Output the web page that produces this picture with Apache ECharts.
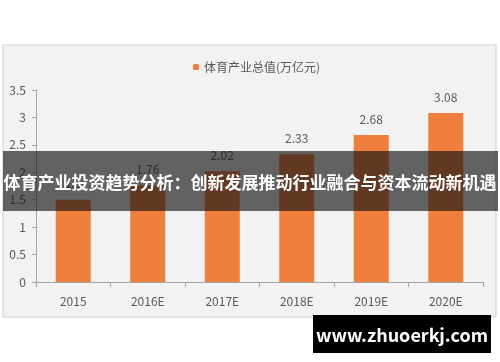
<!DOCTYPE html>
<html><head><meta charset="utf-8">
<script src="https://cdn.jsdelivr.net/npm/echarts@6/dist/echarts.min.js"></script>
<style>html,body{margin:0;padding:0;background:#fff}#c{width:500px;height:362px}</style>
</head><body><div id="c"></div>
<script>
const categories = ['2015','2016E','2017E','2018E','2019E','2020E'];
const values = [1.5, 1.76, 2.02, 2.33, 2.68, 3.08];
const seriesName = '体育产业总值(万亿元)';
const yTicks = {min: 0, max: 3.5, interval: 0.5};
const bannerText = '体育产业投资趋势分析：创新发展推动行业融合与资本流动新机遇';
const watermark = 'www.zhuoerkj.com';

const chart = echarts.init(document.getElementById('c'));
const font = '"Microsoft YaHei","Noto Sans CJK SC","Noto Sans",sans-serif';
chart.setOption({
  animation: false,
  backgroundColor: '#fff',
  textStyle: {fontFamily: font},
  legend: {
    data: [seriesName], left: 188, top: 56,
    itemWidth: 6, itemHeight: 6, itemGap: 4,
    textStyle: {fontSize: 12, color: '#595959', fontFamily: font}
  },
  grid: {left: 36, right: 17, top: 90, bottom: 80},
  xAxis: {
    type: 'category', data: categories,
    axisLine: {lineStyle: {color: '#a6a6a6'}},
    axisTick: {show: true, lineStyle: {color: '#a6a6a6'}, length: 5},
    axisLabel: {color: '#595959', fontSize: 12, margin: 13}
  },
  yAxis: {
    type: 'value', min: yTicks.min, max: yTicks.max, interval: yTicks.interval,
    axisLine: {show: true, lineStyle: {color: '#a6a6a6'}},
    axisTick: {show: true, lineStyle: {color: '#a6a6a6'}, length: 4},
    splitLine: {show: false},
    axisLabel: {color: '#595959', fontSize: 12, margin: 10}
  },
  series: [{
    name: seriesName, type: 'bar', data: values, barWidth: '47%',
    itemStyle: {color: '#EF7F3C'},
    label: {show: true, position: 'top', color: '#595959', fontSize: 12, distance: 10}
  }],
  graphic: [
    {type: 'rect', z: -10, shape: {x: 3, y: 45, width: 493, height: 272},
     style: {fill: '#f2f2f2', stroke: '#cfcfcf', lineWidth: 1}},
    {type: 'rect', z: 100, shape: {x: 3, y: 151, width: 495, height: 60},
     style: {fill: 'rgba(20,20,20,0.65)'}},
    {type: 'text', z: 101, x: 250, y: 183,
     style: {text: bannerText, fill: '#fff', font: 'bold 17px ' + font, textAlign: 'center', textVerticalAlign: 'middle'}},
    {type: 'rect', z: 100, shape: {x: 313, y: 315, width: 178, height: 38},
     style: {fill: '#000'}},
    {type: 'text', z: 101, x: 402, y: 335,
     style: {text: watermark, fill: '#fff', font: 'bold 18px ' + font, textAlign: 'center', textVerticalAlign: 'middle'}}
  ]
});
</script></body></html>
